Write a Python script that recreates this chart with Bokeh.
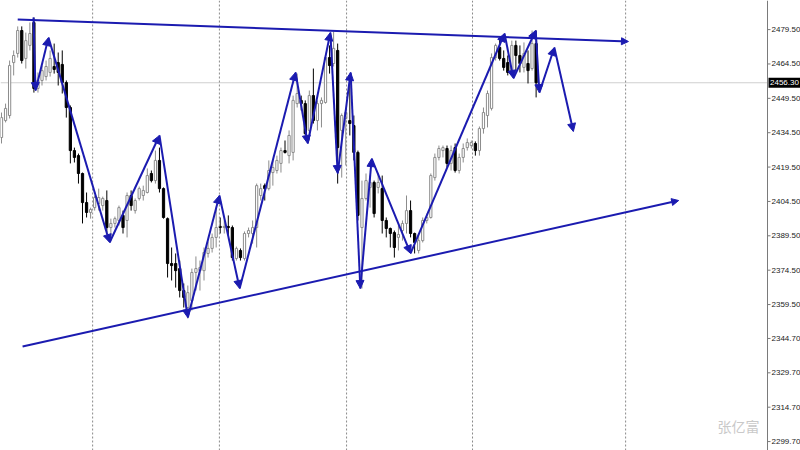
from bokeh.plotting import figure
from bokeh.models import ColumnDataSource, Range1d, Span, Label, Arrow, NormalHead
from bokeh.core.properties import value
from bokeh.embed import file_html
from bokeh.resources import INLINE

# ---- price bars (XAUUSD, oldest first) ----
opens = [
    2432.4, 2439.8, 2442.0, 2465.1, 2469.1, 2479.1, 2466.9, 2472.6, 2482.6, 2453.8,
    2457.3, 2459.0, 2460.8, 2463.4, 2465.1, 2464.3, 2456.4, 2445.5, 2426.7, 2424.5,
    2416.7, 2404.0, 2399.7, 2401.8, 2403.6, 2402.7, 2404.9, 2393.1, 2394.9, 2396.2,
    2398.4, 2396.2, 2407.1, 2400.5, 2405.8, 2407.1, 2408.4, 2416.7, 2413.6, 2422.4,
    2410.1, 2397.0, 2377.4, 2377.4, 2375.2, 2365.6, 2358.2, 2361.2, 2373.5, 2374.3,
    2374.3, 2381.8, 2384.0, 2388.8, 2393.6, 2393.1, 2393.6, 2393.1, 2379.6, 2383.1,
    2379.6, 2390.5, 2390.5, 2393.1, 2407.1, 2411.4, 2410.1, 2417.1, 2418.0, 2421.1,
    2426.7, 2424.5, 2425.9, 2447.2, 2448.6, 2447.2, 2435.5, 2450.7, 2439.8, 2447.2,
    2447.7, 2467.3, 2464.7, 2470.4, 2435.5, 2440.7, 2439.8, 2437.6, 2425.9, 2393.1,
    2405.8, 2410.6, 2412.8, 2410.6, 2410.1, 2396.2, 2392.7, 2390.9, 2388.8, 2391.8,
    2394.9, 2400.5, 2390.5, 2383.1, 2387.4, 2396.2, 2397.5, 2414.9, 2423.7, 2426.7,
    2427.6, 2421.1, 2428.0, 2418.0, 2423.7, 2428.0, 2428.9, 2429.8, 2426.7, 2436.3,
    2442.0, 2445.1, 2467.3, 2471.7, 2466.9, 2465.1, 2460.8, 2472.6, 2468.2, 2463.0,
    2464.7, 2462.5, 2473.4,
]
highs = [
    2443.3, 2447.2, 2466.0, 2470.4, 2480.9, 2480.9, 2478.2, 2482.6, 2484.8, 2460.8,
    2463.8, 2466.0, 2470.4, 2473.4, 2469.5, 2470.4, 2457.3, 2446.4, 2428.0, 2425.4,
    2417.1, 2408.4, 2401.8, 2407.1, 2410.1, 2406.6, 2409.3, 2397.0, 2397.9, 2402.7,
    2400.5, 2408.4, 2409.3, 2405.8, 2411.0, 2411.4, 2418.9, 2418.0, 2426.7, 2428.0,
    2410.6, 2397.5, 2384.4, 2381.8, 2378.7, 2368.7, 2367.8, 2375.2, 2380.5, 2378.7,
    2384.4, 2387.0, 2390.5, 2401.8, 2397.5, 2396.2, 2398.4, 2394.0, 2384.8, 2384.0,
    2391.4, 2393.1, 2396.2, 2412.3, 2412.3, 2412.3, 2422.4, 2422.4, 2424.5, 2428.0,
    2431.1, 2435.5, 2450.7, 2460.3, 2450.7, 2448.6, 2452.9, 2462.5, 2448.6, 2449.9,
    2468.2, 2472.6, 2478.7, 2473.4, 2442.9, 2444.2, 2457.3, 2442.0, 2426.7, 2413.6,
    2416.7, 2415.8, 2413.6, 2416.7, 2415.8, 2397.5, 2393.1, 2391.8, 2394.0, 2396.2,
    2407.1, 2404.9, 2390.9, 2390.5, 2397.5, 2399.2, 2416.7, 2425.4, 2428.9, 2428.9,
    2428.9, 2428.9, 2429.8, 2425.4, 2429.8, 2432.0, 2431.1, 2430.7, 2437.2, 2445.5,
    2452.9, 2469.1, 2473.4, 2475.6, 2470.4, 2468.2, 2474.7, 2474.7, 2472.6, 2473.9,
    2470.4, 2479.1, 2479.1,
]
lows = [
    2429.8, 2439.0, 2440.7, 2459.5, 2467.3, 2464.7, 2462.5, 2470.4, 2452.0, 2452.0,
    2455.1, 2457.3, 2459.0, 2460.3, 2455.1, 2451.6, 2441.1, 2421.1, 2421.5, 2412.3,
    2394.9, 2397.5, 2397.0, 2400.5, 2400.5, 2400.5, 2390.9, 2387.4, 2393.1, 2394.0,
    2390.5, 2388.8, 2400.5, 2399.2, 2404.9, 2404.9, 2408.0, 2412.8, 2412.3, 2408.4,
    2397.0, 2371.3, 2370.0, 2366.9, 2362.6, 2358.2, 2353.4, 2356.9, 2365.6, 2365.6,
    2370.0, 2380.0, 2382.2, 2384.4, 2390.5, 2390.5, 2389.6, 2378.7, 2378.7, 2378.7,
    2378.7, 2388.8, 2386.1, 2384.4, 2404.9, 2404.9, 2409.3, 2411.4, 2416.7, 2417.1,
    2425.4, 2421.1, 2422.4, 2445.5, 2444.2, 2433.3, 2431.1, 2438.5, 2435.5, 2436.8,
    2447.2, 2460.3, 2463.4, 2412.3, 2414.9, 2420.2, 2433.3, 2422.4, 2396.2, 2366.5,
    2404.9, 2401.8, 2397.5, 2408.0, 2390.5, 2388.8, 2384.4, 2380.0, 2383.1, 2387.4,
    2390.5, 2388.8, 2381.8, 2381.8, 2386.6, 2394.9, 2397.0, 2413.6, 2422.4, 2423.7,
    2419.3, 2418.0, 2417.1, 2416.7, 2421.5, 2426.7, 2427.6, 2424.5, 2424.5, 2434.1,
    2436.8, 2444.2, 2466.0, 2466.0, 2461.6, 2459.5, 2459.5, 2461.6, 2460.8, 2460.8,
    2456.0, 2461.6, 2449.9,
]
closes = [
    2441.1, 2445.1, 2463.8, 2468.2, 2479.1, 2466.0, 2474.7, 2477.8, 2453.8, 2457.3,
    2461.6, 2463.4, 2466.9, 2462.1, 2460.8, 2456.4, 2445.5, 2426.7, 2423.7, 2416.7,
    2404.0, 2399.7, 2401.0, 2406.2, 2406.2, 2405.8, 2393.1, 2394.9, 2397.0, 2401.8,
    2393.1, 2407.1, 2402.7, 2404.9, 2410.1, 2409.3, 2415.8, 2413.6, 2422.4, 2410.1,
    2397.5, 2377.4, 2376.5, 2374.3, 2365.6, 2362.6, 2364.7, 2373.5, 2375.2, 2375.7,
    2382.2, 2384.0, 2388.8, 2393.1, 2393.1, 2393.6, 2393.1, 2380.0, 2384.0, 2380.0,
    2390.5, 2391.8, 2393.1, 2411.4, 2410.1, 2410.1, 2418.0, 2419.3, 2422.4, 2426.7,
    2425.9, 2433.3, 2448.6, 2451.6, 2447.2, 2434.1, 2450.7, 2439.8, 2447.2, 2448.6,
    2467.3, 2463.8, 2471.3, 2428.0, 2442.0, 2443.3, 2438.5, 2425.9, 2398.4, 2405.8,
    2413.6, 2412.8, 2399.2, 2412.8, 2396.2, 2392.7, 2390.5, 2384.4, 2390.1, 2394.9,
    2400.5, 2390.5, 2386.6, 2387.4, 2396.2, 2397.5, 2415.8, 2423.7, 2427.6, 2428.0,
    2421.1, 2426.7, 2418.0, 2423.7, 2427.6, 2430.2, 2430.2, 2426.7, 2436.3, 2443.3,
    2451.6, 2467.3, 2472.6, 2466.9, 2463.0, 2460.8, 2472.6, 2468.2, 2464.7, 2469.1,
    2461.6, 2473.4, 2456.3,
]

# right-hand price scale
price_ticks = [2479.5, 2464.5, 2449.5, 2434.5, 2419.5, 2404.5, 2389.5,
               2374.5, 2359.5, 2344.7, 2329.7, 2314.7, 2299.7]

# session separators (bar index)
session_breaks = [22.5, 53.8, 85.2, 116.3, 154.1]

# hand-drawn swing path: (bar index, price) of each turning point
swing_x = [7.9, 8.4, 11.6, 26.7, 39.0, 46.0, 53.8, 58.8, 72.6, 75.6, 81.2,
           83.0, 86.2, 88.6, 91.4, 101.0, 124.2, 126.4, 131.9, 132.8, 136.5, 141.2]
swing_y = [2484.8, 2452.9, 2476.0, 2386.6, 2433.3, 2353.8, 2407.1, 2366.5, 2460.8,
           2429.8, 2478.2, 2416.7, 2460.8, 2366.5, 2423.2, 2381.8, 2477.8, 2458.2,
           2479.1, 2452.0, 2471.7, 2435.0]

# triangle boundaries
upper_x = [4.0, 154.8]
upper_y = [2483.9, 2474.3]
lower_x = [5.2, 167.2]
lower_y = [2341.2, 2404.9]

BLUE = "#1b1bb0"
AXIS_GREY = "#7a7a7a"
SCALE_FONT = "8px"

# layout of the canvas: the price scale strip sits inside the frame on the right
W, H = 800, 450
PX_PER_BAR = 4.05
X0 = -0.25
X1 = X0 + W / PX_PER_BAR
axis_x = X0 + 767 / PX_PER_BAR          # price-scale line
tick_len = 3 / PX_PER_BAR
label_x = axis_x + 4 / PX_PER_BAR

idx = list(range(len(opens)))
bull = [c >= o for o, c in zip(opens, closes)]
bear = [not b for b in bull]


def pick(mask, seq):
    return [v for m, v in zip(mask, seq) if m]


src_bull = ColumnDataSource(dict(x=pick(bull, idx), o=pick(bull, opens), h=pick(bull, highs),
                                 l=pick(bull, lows), c=pick(bull, closes)))
src_bear = ColumnDataSource(dict(x=pick(bear, idx), o=pick(bear, opens), h=pick(bear, highs),
                                 l=pick(bear, lows), c=pick(bear, closes)))

p = figure(width=W, height=H, output_backend="svg", toolbar_location=None,
           x_range=Range1d(X0, X1), y_range=Range1d(2295.8, 2492.2),
           x_axis_location=None, y_axis_location=None,
           min_border_left=0, min_border_right=0, min_border_top=0, min_border_bottom=0)
p.xgrid.visible = False
p.ygrid.visible = False
p.outline_line_color = None
p.background_fill_color = "white"
p.border_fill_color = "white"

# session separators
for b in session_breaks:
    p.add_layout(Span(location=b, dimension="height", line_color="#8a8a8a",
                      line_width=1, line_dash="2 2"))

# last-price line, up to the scale
p.segment(x0=[X0], y0=[closes[-1]], x1=[axis_x], y1=[closes[-1]],
          line_color="#cfcfcf", line_width=1)

# candles
p.segment("x", "h", "x", "l", source=src_bull, line_color="#8c8c8c", line_width=1)
p.vbar(x="x", top="o", bottom="c", width=0.55, source=src_bull,
       fill_color="white", line_color="#8c8c8c", line_width=1)
p.segment("x", "h", "x", "l", source=src_bear, line_color="black", line_width=1)
p.vbar(x="x", top="o", bottom="c", width=0.55, source=src_bear,
       fill_color="black", line_color="black", line_width=1)

# triangle boundaries with arrow tips
for xs, ys in ((upper_x, upper_y), (lower_x, lower_y)):
    p.add_layout(Arrow(x_start=xs[0], y_start=ys[0], x_end=xs[1], y_end=ys[1],
                       line_color=BLUE, line_width=2,
                       end=NormalHead(size=7, fill_color=BLUE, line_color=BLUE, line_width=1)))

# swing path, each leg ending in an arrow head
legs = ColumnDataSource(dict(x0=swing_x[:-1], y0=swing_y[:-1], x1=swing_x[1:], y1=swing_y[1:]))
p.add_layout(Arrow(x_start="x0", y_start="y0", x_end="x1", y_end="y1", source=legs,
                   line_color=BLUE, line_width=2,
                   end=NormalHead(size=8, fill_color=BLUE, line_color=BLUE, line_width=1)))

# price scale: line, ticks and labels
p.add_layout(Span(location=axis_x, dimension="height", line_color=AXIS_GREY, line_width=1))
n = len(price_ticks)
p.segment(x0=[axis_x] * n, y0=price_ticks, x1=[axis_x + tick_len] * n, y1=price_ticks,
          line_color=AXIS_GREY, line_width=1)
p.text(x=[label_x] * n, y=price_ticks, text=[f"{t:.2f}" for t in price_ticks],
       text_font=value("Liberation Sans"), text_font_size=SCALE_FONT, text_color="#222222",
       text_baseline="middle", text_align="left")

# last price tag on the scale
p.rect(x=[axis_x + 17 / PX_PER_BAR], y=[closes[-1]], width=32, height=10,
       width_units="screen", height_units="screen", fill_color="black", line_color=None)
p.text(x=[axis_x + 2.5 / PX_PER_BAR], y=[closes[-1]], text=[f"{closes[-1]:.2f}"],
       text_font=value("Liberation Sans"), text_font_size=SCALE_FONT, text_color="white",
       text_baseline="middle", text_align="left")

# author mark
p.add_layout(Label(x=717, y=25, x_units="screen", y_units="screen", text="张亿富",
                   text_font="Noto Sans CJK SC", text_font_size="14px",
                   text_color="#c9c9c9", text_baseline="middle"))

open("out.html", "w").write(file_html(p, INLINE))
